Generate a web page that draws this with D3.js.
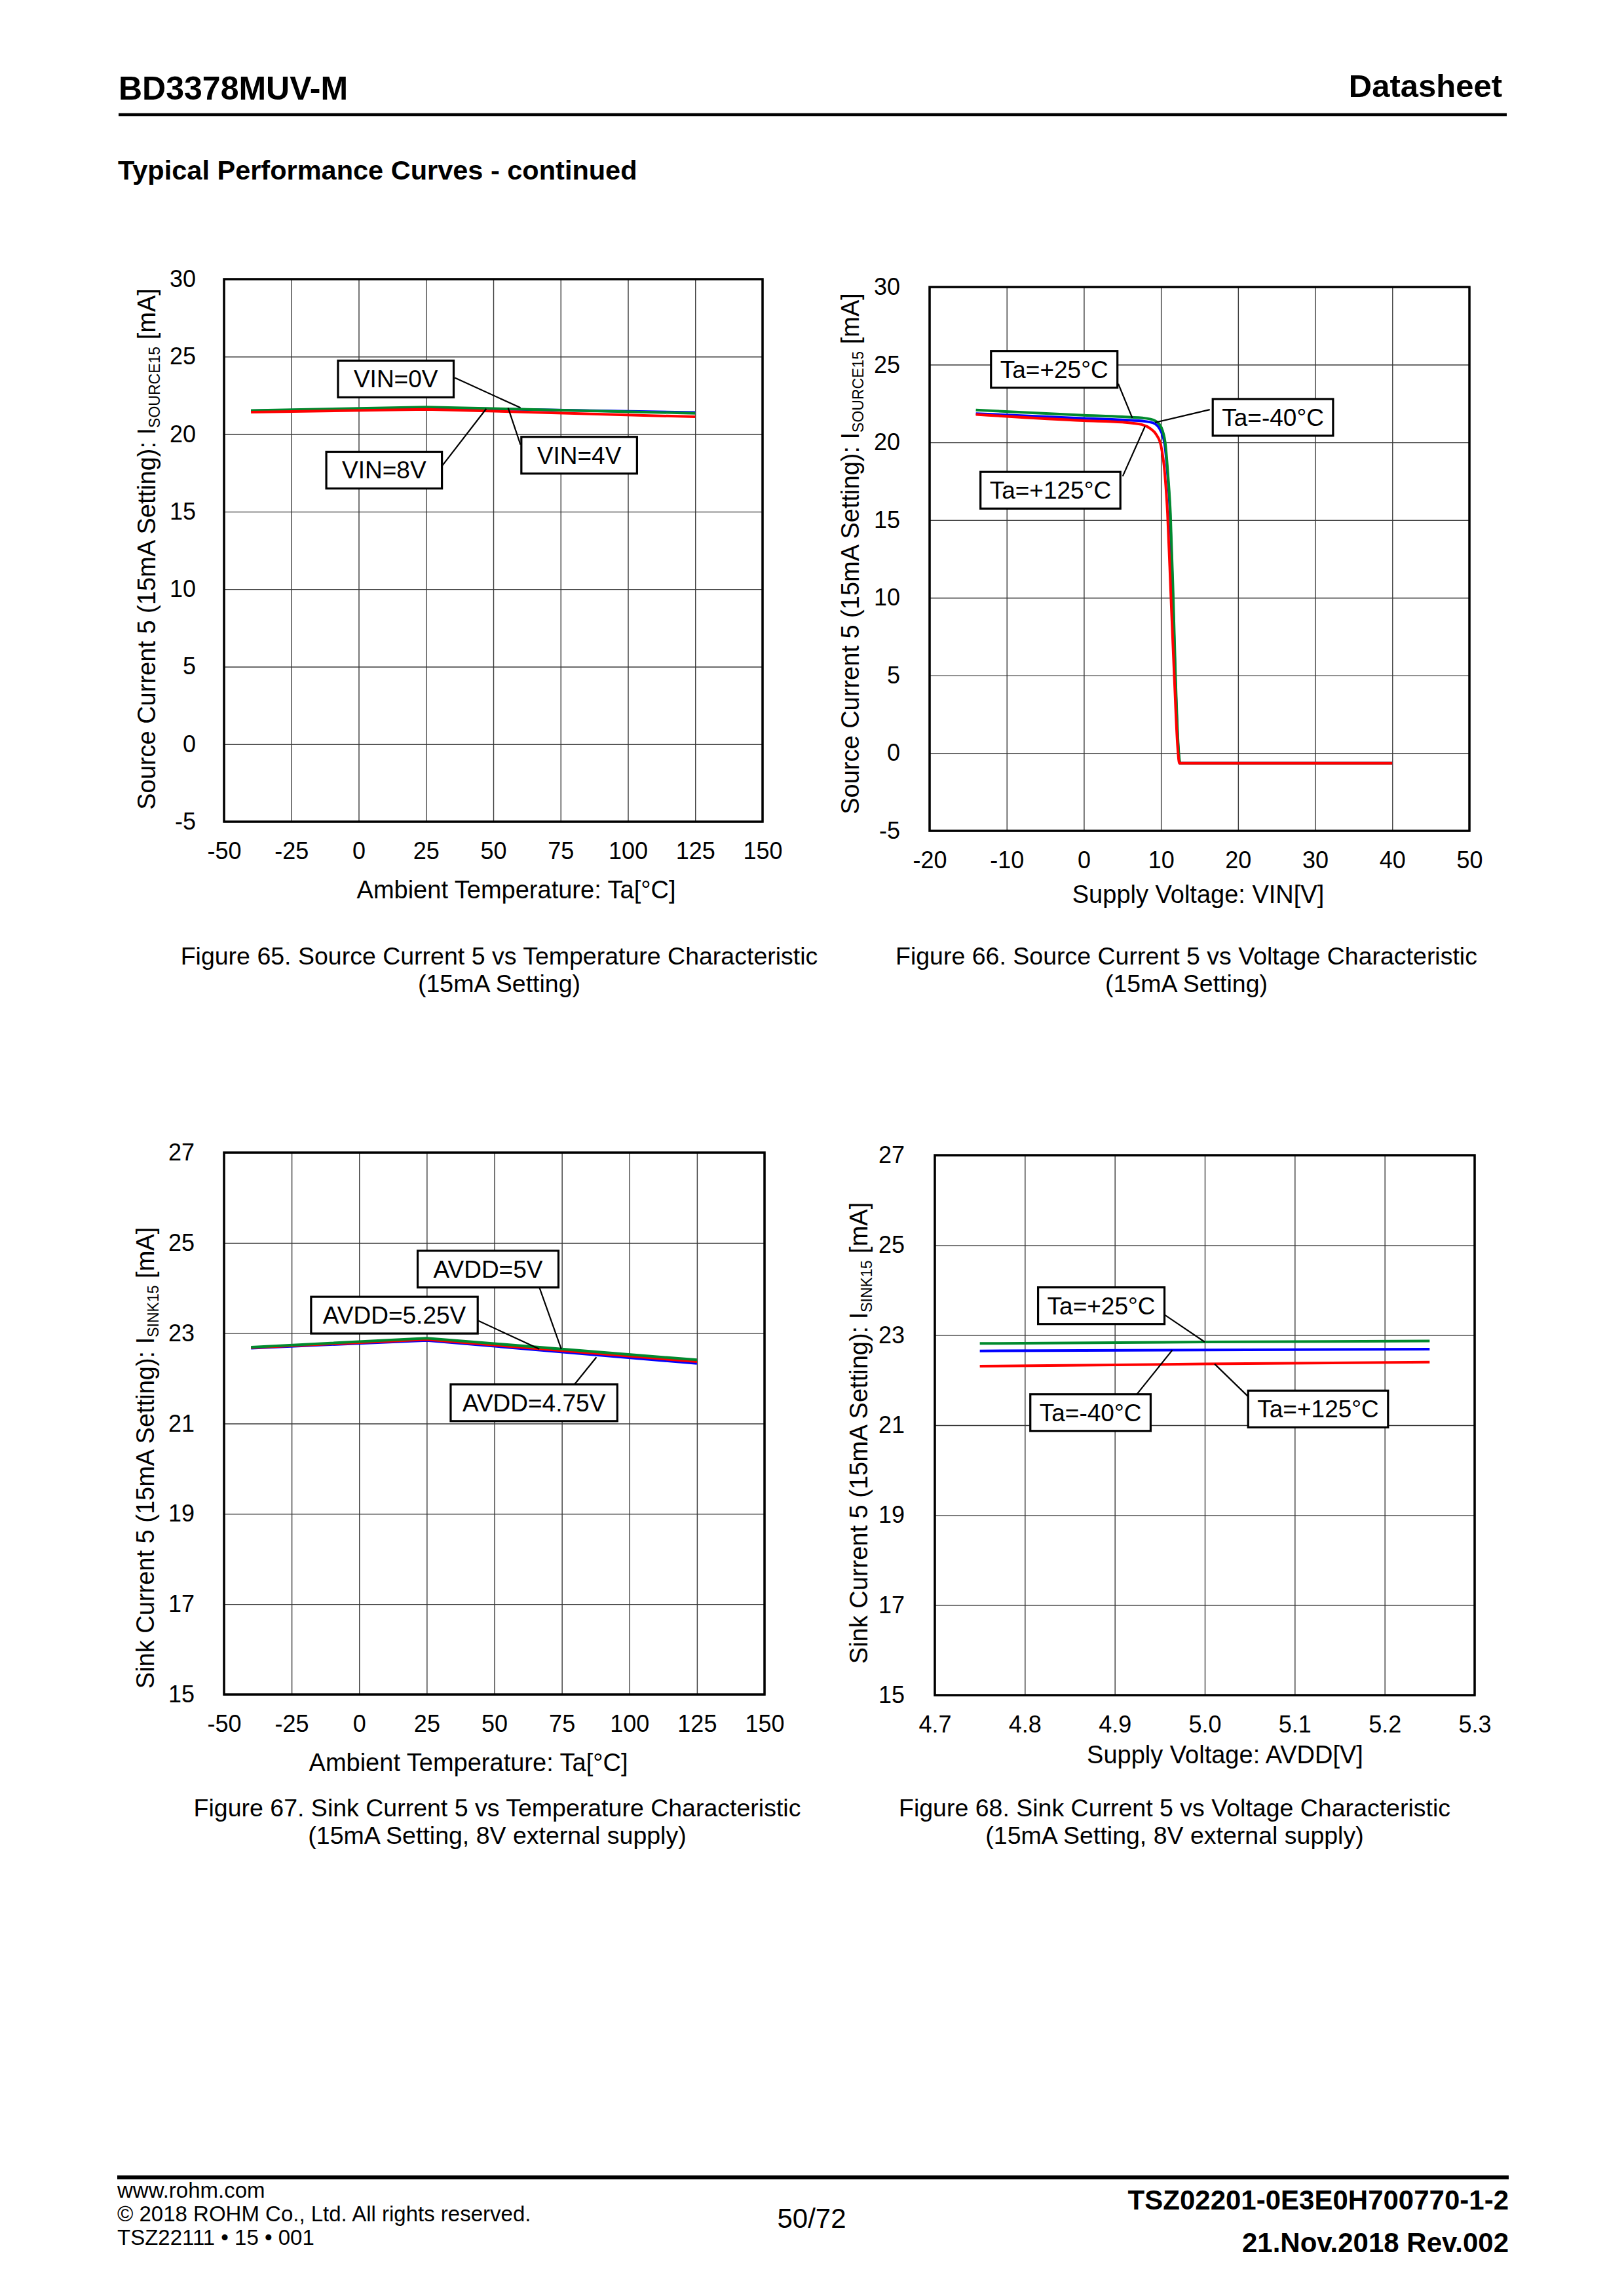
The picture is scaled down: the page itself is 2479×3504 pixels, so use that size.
<!DOCTYPE html>
<html>
<head>
<meta charset="utf-8">
<script src="https://cdn.jsdelivr.net/npm/d3@7"></script>
<style>
	body { margin: 0; background: #fff; }
	text { font-family: Arial, 'Liberation Sans', sans-serif; fill: #000; }
</style>
</head>
<body>
<svg id="page"></svg>
<script>
// ---- data ----

// Figure 65: source current vs ambient temperature
const temp65 = [-40, 25, 125]
const src65Vin0 = [21.5, 21.7, 21.4]
const src65Vin4 = [21.52, 21.75, 21.35]
const src65Vin8 = [21.42, 21.6, 21.12]

// Figure 66: source current vs supply voltage
const vin66M40 = [-14, 0, 5, 8, 9, 9.8, 10.45, 10.85, 11.18, 11.55, 11.87, 12.22, 12.45, 20, 30, 40]
const src66M40 = [21.85, 21.55, 21.45, 21.35, 21.25, 20.9, 20.0, 18.0, 15.45, 10.0, 4.7, 0.5, -0.65, -0.65, -0.65, -0.65]
const vin66P25 = [-14, 0, 5, 8, 9, 9.9, 10.55, 10.9, 11.23, 11.6, 11.91, 12.25, 12.5, 20, 30, 40]
const src66P25 = [22.08, 21.75, 21.65, 21.55, 21.45, 21.1, 20.0, 18.0, 15.45, 10.0, 4.7, 0.5, -0.65, -0.65, -0.65, -0.65]
const vin66P125 = [-14, 0, 5, 7.5, 8.6, 9.4, 10.0, 10.5, 10.85, 11.3, 11.75, 12.15, 12.4, 20, 30, 40]
const src66P125 = [21.8, 21.4, 21.3, 21.15, 20.9, 20.5, 19.8, 18.0, 15.45, 10.0, 4.7, 0.5, -0.65, -0.65, -0.65, -0.65]

// Figure 67: sink current vs ambient temperature
const temp67 = [-40, 25, 125]
const sink67Avdd475 = [22.67, 22.84, 22.33]
const sink67Avdd5 = [22.69, 22.89, 22.41]
const sink67Avdd525 = [22.68, 22.86, 22.37]

// Figure 68: sink current vs AVDD
const avdd68 = [4.75, 5.0, 5.25]
const sink68M40 = [22.65, 22.67, 22.69]
const sink68P25 = [22.815, 22.85, 22.87]
const sink68P125 = [22.31, 22.36, 22.40]

// tick values
const tempTicks = [-50, -25, 0, 25, 50, 75, 100, 125, 150]
const srcTicks = [-5, 0, 5, 10, 15, 20, 25, 30]
const vinTicks = [-20, -10, 0, 10, 20, 30, 40, 50]
const sinkTicks = [15, 17, 19, 21, 23, 25, 27]
const avddTicks = [4.7, 4.8, 4.9, 5.0, 5.1, 5.2, 5.3]

// labels: text, box centre, leader from -> to (data units)
const notes65 = [
	{ text: 'VIN=0V', c: [13.8, 23.56], from: [35.7, 23.64], to: [60.1, 21.7] },
	{ text: 'VIN=8V', c: [9.45, 17.68], from: [31.1, 17.98], to: [47.4, 21.64] },
	{ text: 'VIN=4V', c: [81.9, 18.64], from: [60.1, 19.32], to: [55.5, 21.7] },
]
const notes66 = [
	{ text: 'Ta=+25°C', c: [-3.84, 24.7], from: [4.47, 23.77], to: [6.29, 21.57] },
	{ text: 'Ta=-40°C', c: [24.52, 21.61], from: [16.34, 22.11], to: [9.24, 21.28] },
	{ text: 'Ta=+125°C', c: [-4.33, 16.92], from: [5.04, 17.82], to: [7.94, 21.04] },
]
const notes67 = [
	{ text: 'AVDD=5V', c: [47.7, 24.42], from: [66.65, 24.02], to: [74.8, 22.65] },
	{ text: 'AVDD=5.25V', c: [13.04, 23.40], from: [43.9, 23.28], to: [66.65, 22.65] },
	{ text: 'AVDD=4.75V', c: [64.7, 21.46], from: [79.2, 21.83], to: [87.8, 22.47] },
]
const notes68 = [
	{ text: 'Ta=+25°C', c: [4.885, 23.655], from: [4.94, 23.66], to: [5.0, 22.85] },
	{ text: 'Ta=-40°C', c: [4.873, 21.28], from: [4.915, 21.45], to: [4.964, 22.67] },
	{ text: 'Ta=+125°C', c: [5.126, 21.36], from: [5.062, 21.37], to: [5.011, 22.36] },
]

const blue = '#0000ff', green = '#008a2e', red = '#ff0000'
const plain = d => String(d)

const svg = d3.select('#page')
	.attr('width', 2479)
	.attr('height', 3504)

svg.append('rect').attr('width', 2479).attr('height', 3504).attr('fill', '#fff')

// ---- page header ----
svg.append('text').attr('x', 181).attr('y', 152)
	.attr('font-size', 50).attr('font-weight', 'bold').text('BD3378MUV-M')
svg.append('text').attr('x', 2293).attr('y', 148).attr('text-anchor', 'end')
	.attr('font-size', 49).attr('font-weight', 'bold').text('Datasheet')
svg.append('line').attr('x1', 181).attr('x2', 2300).attr('y1', 175).attr('y2', 175)
	.attr('stroke', '#000').attr('stroke-width', 4.5)
svg.append('text').attr('x', 180).attr('y', 274)
	.attr('font-size', 41.5).attr('font-weight', 'bold').text('Typical Performance Curves - continued')

function drawPanel(cfg) {
	const { x0, y0, w, h } = cfg.box
	const g = svg.append('g').attr('transform', `translate(${x0},${y0})`)

	const xScale = d3.scaleLinear().domain(cfg.xDomain).range([0, w])
	const yScale = d3.scaleLinear().domain(cfg.yDomain).range([h, 0])

	// grid
	g.append('g')
		.call(d3.axisBottom(xScale).tickValues(cfg.xTicks).tickSize(h).tickFormat(''))
		.call(a => a.select('.domain').remove())
		.selectAll('line').attr('stroke', '#3a3a3a').attr('stroke-width', 1.4)
	g.append('g')
		.call(d3.axisLeft(yScale).tickValues(cfg.yTicks).tickSize(-w).tickFormat(''))
		.call(a => a.select('.domain').remove())
		.selectAll('line').attr('stroke', '#3a3a3a').attr('stroke-width', 1.4)

	// tick labels
	g.append('g').attr('transform', `translate(0,${h})`)
		.call(d3.axisBottom(xScale).tickValues(cfg.xTicks).tickSize(0).tickPadding(31)
			.tickFormat(cfg.xFormat || plain))
		.call(a => a.select('.domain').remove())
		.selectAll('text').attr('font-size', 36).attr('font-family', 'Arial, Liberation Sans, sans-serif')
	g.append('g')
		.call(d3.axisLeft(yScale).tickValues(cfg.yTicks).tickSize(0).tickPadding(cfg.yPad)
			.tickFormat(plain))
		.call(a => a.select('.domain').remove())
		.selectAll('text').attr('font-size', 36).attr('font-family', 'Arial, Liberation Sans, sans-serif')

	// curves
	const line = d3.line()
		.x(d => xScale(d[0]))
		.y(d => yScale(d[1]))
		.curve(cfg.curve || d3.curveLinear)
	cfg.series.forEach(s => {
		g.append('path')
			.datum(s.x.map((v, i) => [v, s.y[i]]))
			.attr('fill', 'none')
			.attr('stroke', s.color)
			.attr('stroke-width', 4)
			.attr('stroke-linejoin', 'round')
			.attr('d', line)
	})

	// frame
	g.append('rect').attr('width', w).attr('height', h)
		.attr('fill', 'none').attr('stroke', '#000').attr('stroke-width', 3.5)

	// labels with leaders
	cfg.notes.forEach(n => {
		g.append('line')
			.attr('x1', xScale(n.from[0])).attr('y1', yScale(n.from[1]))
			.attr('x2', xScale(n.to[0])).attr('y2', yScale(n.to[1]))
			.attr('stroke', '#000').attr('stroke-width', 2.2)
		const ng = g.append('g')
		const box = ng.append('rect')
		const t = ng.append('text')
			.attr('x', xScale(n.c[0])).attr('y', yScale(n.c[1]) + 13)
			.attr('text-anchor', 'middle').attr('font-size', 37).text(n.text)
		let pad = 48
		if (n.text.includes('°')) pad = 28
		else if (n.text.length > 7) pad = 36
		const bw = t.node().getComputedTextLength() + pad
		box.attr('x', xScale(n.c[0]) - bw / 2).attr('y', yScale(n.c[1]) - 28)
			.attr('width', bw).attr('height', 56)
			.attr('fill', '#fff').attr('stroke', '#000').attr('stroke-width', 3.2)
	})

	// axis titles
	svg.append('text')
		.attr('x', cfg.xTitlePos[0]).attr('y', cfg.xTitlePos[1])
		.attr('text-anchor', 'middle').attr('font-size', 38).text(cfg.xTitle)
	const yt = svg.append('text')
		.attr('transform', `translate(${cfg.yTitlePos[0]},${cfg.yTitlePos[1]}) rotate(-90)`)
		.attr('text-anchor', 'middle').attr('font-size', 38)
	yt.append('tspan').text(cfg.yTitle[0])
	yt.append('tspan').attr('font-size', 23).attr('dy', 7).text(cfg.yTitle[1])
	yt.append('tspan').attr('dy', -7).text(cfg.yTitle[2])

	// caption
	cfg.caption.forEach((c, i) => {
		svg.append('text')
			.attr('x', cfg.captionPos[0]).attr('y', cfg.captionPos[1] + i * 42)
			.attr('text-anchor', 'middle').attr('font-size', 37.5).text(c)
	})
}

drawPanel({
	box: { x0: 342, y0: 426, w: 822, h: 828 },
	xDomain: [-50, 150], xTicks: tempTicks,
	yDomain: [-5, 30], yTicks: srcTicks, yPad: 43,
	series: [
		{ x: temp65, y: src65Vin0, color: blue },
		{ x: temp65, y: src65Vin4, color: green },
		{ x: temp65, y: src65Vin8, color: red },
	],
	notes: notes65,
	xTitle: 'Ambient Temperature: Ta[°C]', xTitlePos: [788, 1371],
	yTitle: ['Source Current 5 (15mA Setting): I', 'SOURCE15', ' [mA]'], yTitlePos: [237, 838],
	caption: ['Figure 65. Source Current 5 vs Temperature Characteristic', '(15mA Setting)'],
	captionPos: [762, 1472],
})

drawPanel({
	box: { x0: 1419, y0: 438, w: 824, h: 830 },
	xDomain: [-20, 50], xTicks: vinTicks,
	yDomain: [-5, 30], yTicks: srcTicks, yPad: 45,
	curve: d3.curveMonotoneX,
	series: [
		{ x: vin66M40, y: src66M40, color: blue },
		{ x: vin66P25, y: src66P25, color: green },
		{ x: vin66P125, y: src66P125, color: red },
	],
	notes: notes66,
	xTitle: 'Supply Voltage: VIN[V]', xTitlePos: [1829, 1378],
	yTitle: ['Source Current 5 (15mA Setting): I', 'SOURCE15', ' [mA]'], yTitlePos: [1311, 845],
	caption: ['Figure 66. Source Current 5 vs Voltage Characteristic', '(15mA Setting)'],
	captionPos: [1811, 1472],
})

drawPanel({
	box: { x0: 342, y0: 1759, w: 825, h: 827 },
	xDomain: [-50, 150], xTicks: tempTicks,
	yDomain: [15, 27], yTicks: sinkTicks, yPad: 45,
	series: [
		{ x: temp67, y: sink67Avdd475, color: blue },
		{ x: temp67, y: sink67Avdd525, color: red },
		{ x: temp67, y: sink67Avdd5, color: green },
	],
	notes: notes67,
	xTitle: 'Ambient Temperature: Ta[°C]', xTitlePos: [715, 2703],
	yTitle: ['Sink Current 5 (15mA Setting): I', 'SINK15', ' [mA]'], yTitlePos: [235, 2225],
	caption: ['Figure 67. Sink Current 5 vs Temperature Characteristic', '(15mA Setting, 8V external supply)'],
	captionPos: [759, 2772],
})

drawPanel({
	box: { x0: 1427, y0: 1763, w: 824, h: 824 },
	xDomain: [4.7, 5.3], xTicks: avddTicks, xFormat: d3.format('.1f'),
	yDomain: [15, 27], yTicks: sinkTicks, yPad: 46,
	series: [
		{ x: avdd68, y: sink68M40, color: blue },
		{ x: avdd68, y: sink68P25, color: green },
		{ x: avdd68, y: sink68P125, color: red },
	],
	notes: notes68,
	xTitle: 'Supply Voltage: AVDD[V]', xTitlePos: [1870, 2691],
	yTitle: ['Sink Current 5 (15mA Setting): I', 'SINK15', ' [mA]'], yTitlePos: [1324, 2187],
	caption: ['Figure 68. Sink Current 5 vs Voltage Characteristic', '(15mA Setting, 8V external supply)'],
	captionPos: [1793, 2772],
})

// ---- page footer ----
svg.append('line').attr('x1', 179).attr('x2', 2303).attr('y1', 3323).attr('y2', 3323)
	.attr('stroke', '#000').attr('stroke-width', 6)
svg.append('text').attr('x', 179).attr('y', 3354).attr('font-size', 33).text('www.rohm.com')
svg.append('text').attr('x', 179).attr('y', 3390).attr('font-size', 33).text('© 2018 ROHM Co., Ltd. All rights reserved.')
svg.append('text').attr('x', 179).attr('y', 3426).attr('font-size', 33).text('TSZ22111 • 15 • 001')
svg.append('text').attr('x', 1239).attr('y', 3400).attr('text-anchor', 'middle').attr('font-size', 42).text('50/72')
svg.append('text').attr('x', 2303).attr('y', 3372).attr('text-anchor', 'end')
	.attr('font-size', 42).attr('font-weight', 'bold').text('TSZ02201-0E3E0H700770-1-2')
svg.append('text').attr('x', 2303).attr('y', 3437).attr('text-anchor', 'end')
	.attr('font-size', 42).attr('font-weight', 'bold').text('21.Nov.2018 Rev.002')
</script>
</body>
</html>
